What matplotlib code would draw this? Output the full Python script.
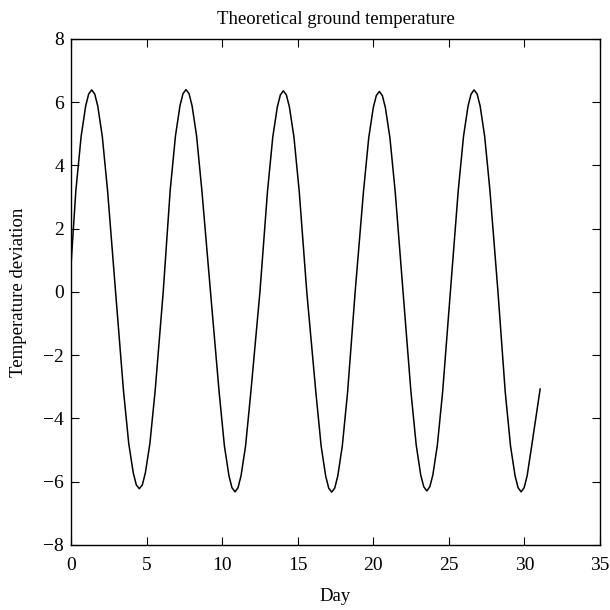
import matplotlib.pyplot as plt

# values (day, temperature deviation)
day = [0.00, 0.32, 0.67, 0.97, 1.17, 1.37, 1.57, 1.77, 2.07, 2.42, 2.95,
       3.47, 3.82, 4.12, 4.32, 4.52, 4.72, 4.92, 5.22, 5.57, 6.10,
       6.56, 6.91, 7.21, 7.41, 7.61, 7.81, 8.01, 8.31, 8.66, 9.23,
       9.80, 10.15, 10.45, 10.65, 10.85, 11.05, 11.25, 11.55, 11.90, 12.50,
       13.00, 13.35, 13.65, 13.85, 14.05, 14.25, 14.45, 14.75, 15.10, 15.60,
       16.20, 16.55, 16.85, 17.05, 17.25, 17.45, 17.65, 17.95, 18.30, 18.80,
       19.35, 19.70, 20.00, 20.20, 20.40, 20.60, 20.80, 21.10, 21.45, 21.97,
       22.49, 22.84, 23.14, 23.34, 23.54, 23.74, 23.94, 24.24, 24.59, 25.10,
       25.62, 25.97, 26.27, 26.47, 26.67, 26.87, 27.07, 27.37, 27.72, 28.25,
       28.73, 29.08, 29.38, 29.58, 29.78, 29.98, 30.18, 30.48, 31.04]
deviation = [0.85, 3.20, 4.92, 5.88, 6.26, 6.39, 6.26, 5.88, 4.92, 3.20, 0.00,
             -3.11, -4.79, -5.72, -6.10, -6.22, -6.10, -5.72, -4.79, -3.11, 0.00,
             3.20, 4.93, 5.89, 6.27, 6.40, 6.27, 5.89, 4.93, 3.20, 0.00,
             -3.16, -4.87, -5.81, -6.19, -6.32, -6.19, -5.81, -4.87, -3.16, 0.00,
             3.18, 4.90, 5.85, 6.23, 6.36, 6.23, 5.85, 4.90, 3.18, 0.00,
             -3.17, -4.87, -5.82, -6.20, -6.33, -6.20, -5.82, -4.87, -3.17, 0.00,
             3.17, 4.88, 5.83, 6.21, 6.34, 6.21, 5.83, 4.88, 3.17, 0.00,
             -3.15, -4.84, -5.79, -6.16, -6.29, -6.16, -5.79, -4.84, -3.15, 0.00,
             3.20, 4.92, 5.88, 6.26, 6.39, 6.26, 5.88, 4.92, 3.20, 0.00,
             -3.16, -4.87, -5.81, -6.19, -6.32, -6.19, -5.81, -4.87, -3.07]

plt.rcParams['font.family'] = ['Liberation Serif', 'DejaVu Serif']
plt.rcParams['axes.unicode_minus'] = True

fig = plt.figure(figsize=(6.1, 6.1), dpi=100)
ax = fig.add_axes([0.1164, 0.1066, 0.8672, 0.8295])

ax.plot(day, deviation, color='black', linewidth=1.1)

ax.set_xlim(0, 35)
ax.set_ylim(-8, 8)
ax.set_xticks(range(0, 36, 5))
ax.set_yticks(range(-8, 9, 2))

ax.set_title("Theoretical ground temperature", fontsize=13.5, pad=11)
ax.set_xlabel("Day", fontsize=13.5, labelpad=10)
ax.set_ylabel("Temperature deviation", fontsize=13.5, labelpad=12)

ax.tick_params(axis='both', direction='in', length=6, width=0.8,
               top=True, right=True, labelsize=14)
ax.tick_params(axis='x', pad=9)
ax.tick_params(axis='y', pad=5)
for s in ax.spines.values():
    s.set_linewidth(1.0)

fig.savefig('out.png', dpi=100)
